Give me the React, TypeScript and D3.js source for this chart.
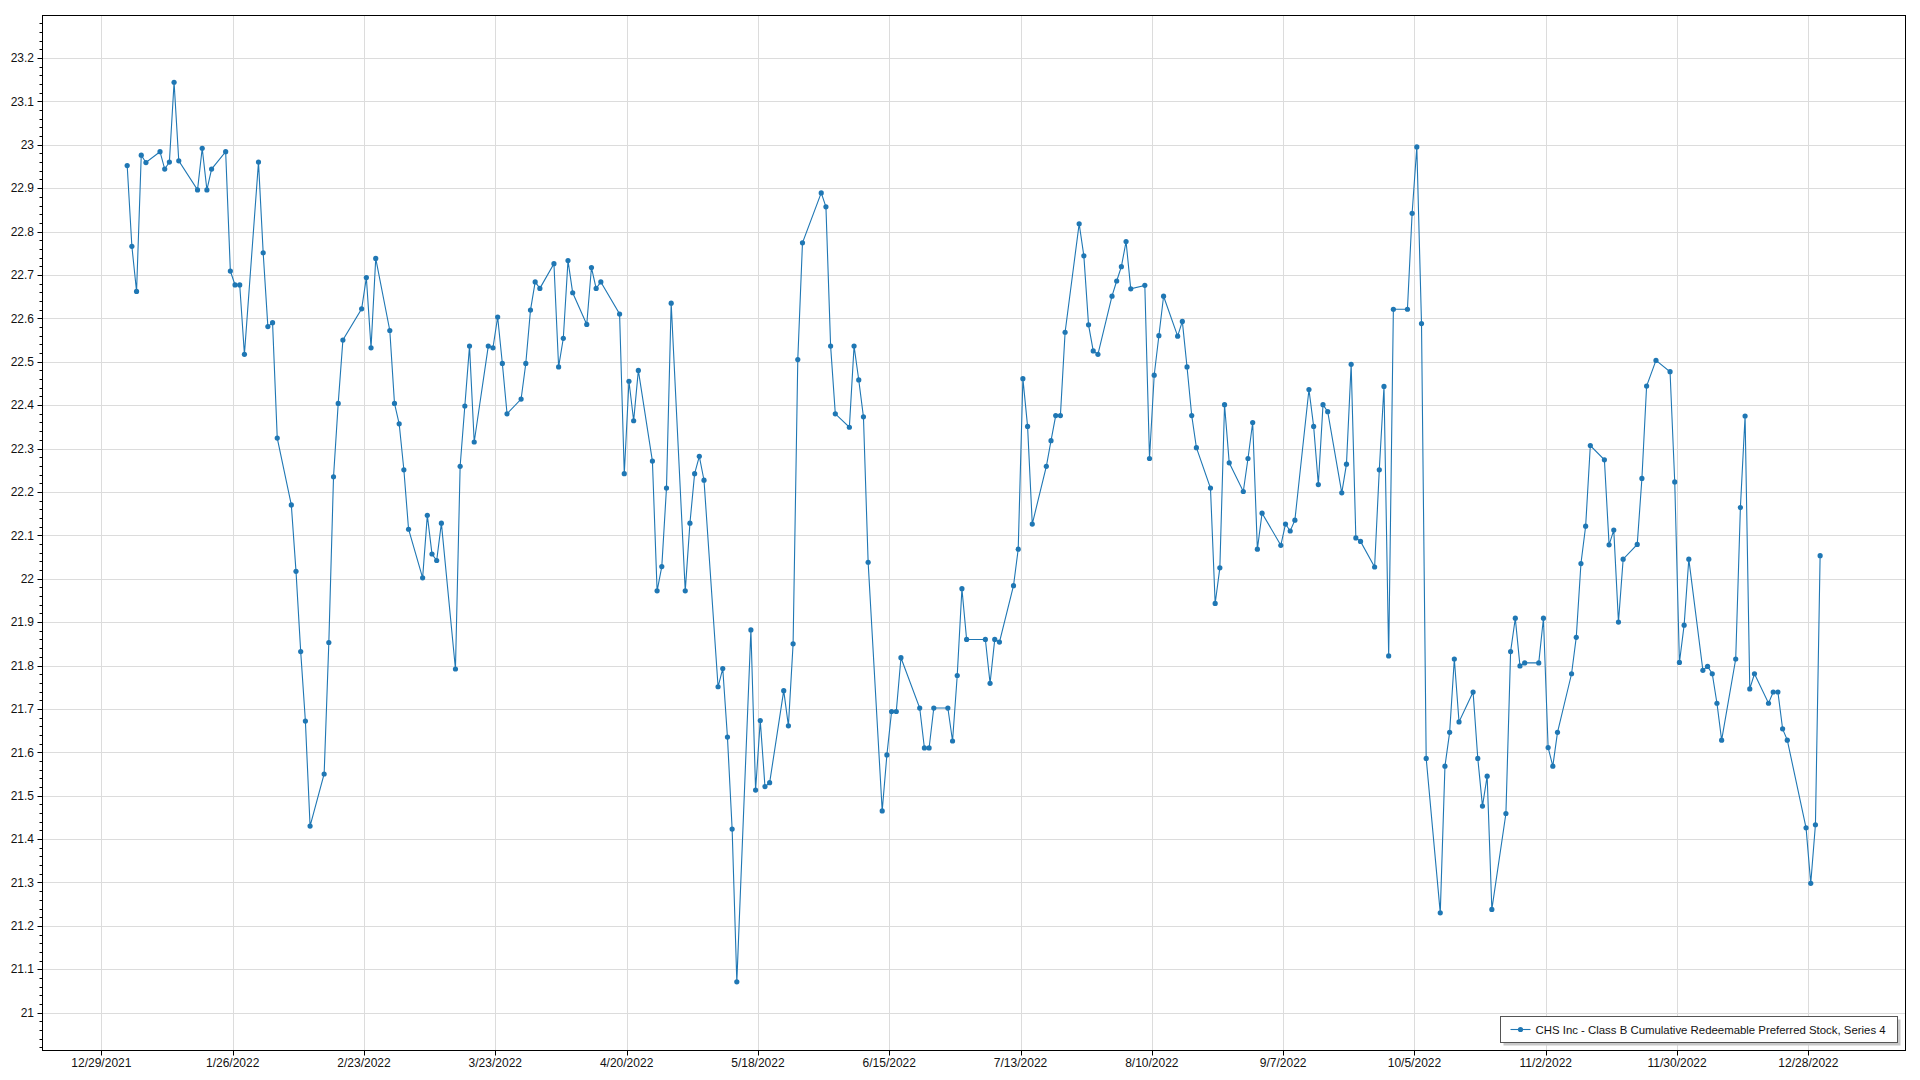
import React from 'react';
import * as d3 from 'd3';

const seriesName = 'CHS Inc - Class B Cumulative Redeemable Preferred Stock, Series 4';

const tradeDates = [
  '2022-01-03','2022-01-04','2022-01-05','2022-01-06','2022-01-07',
  '2022-01-10','2022-01-11','2022-01-12','2022-01-13','2022-01-14',
  '2022-01-18','2022-01-19','2022-01-20','2022-01-21',
  '2022-01-24','2022-01-25','2022-01-26','2022-01-27','2022-01-28',
  '2022-01-31','2022-02-01','2022-02-02','2022-02-03','2022-02-04',
  '2022-02-07','2022-02-08','2022-02-09','2022-02-10','2022-02-11',
  '2022-02-14','2022-02-15','2022-02-16','2022-02-17','2022-02-18',
  '2022-02-22','2022-02-23','2022-02-24','2022-02-25',
  '2022-02-28','2022-03-01','2022-03-02','2022-03-03','2022-03-04',
  '2022-03-07','2022-03-08','2022-03-09','2022-03-10','2022-03-11',
  '2022-03-14','2022-03-15','2022-03-16','2022-03-17','2022-03-18',
  '2022-03-21','2022-03-22','2022-03-23','2022-03-24','2022-03-25',
  '2022-03-28','2022-03-29','2022-03-30','2022-03-31','2022-04-01',
  '2022-04-04','2022-04-05','2022-04-06','2022-04-07','2022-04-08',
  '2022-04-11','2022-04-12','2022-04-13','2022-04-14',
  '2022-04-18','2022-04-19','2022-04-20','2022-04-21','2022-04-22',
  '2022-04-25','2022-04-26','2022-04-27','2022-04-28','2022-04-29',
  '2022-05-02','2022-05-03','2022-05-04','2022-05-05','2022-05-06',
  '2022-05-09','2022-05-10','2022-05-11','2022-05-12','2022-05-13',
  '2022-05-16','2022-05-17','2022-05-18','2022-05-19','2022-05-20',
  '2022-05-23','2022-05-24','2022-05-25','2022-05-26','2022-05-27',
  '2022-05-31','2022-06-01','2022-06-02','2022-06-03',
  '2022-06-06','2022-06-07','2022-06-08','2022-06-09','2022-06-10',
  '2022-06-13','2022-06-14','2022-06-15','2022-06-16','2022-06-17',
  '2022-06-21','2022-06-22','2022-06-23','2022-06-24',
  '2022-06-27','2022-06-28','2022-06-29','2022-06-30','2022-07-01',
  '2022-07-05','2022-07-06','2022-07-07','2022-07-08',
  '2022-07-11','2022-07-12','2022-07-13','2022-07-14','2022-07-15',
  '2022-07-18','2022-07-19','2022-07-20','2022-07-21','2022-07-22',
  '2022-07-25','2022-07-26','2022-07-27','2022-07-28','2022-07-29',
  '2022-08-01','2022-08-02','2022-08-03','2022-08-04','2022-08-05',
  '2022-08-08','2022-08-09','2022-08-10','2022-08-11','2022-08-12',
  '2022-08-15','2022-08-16','2022-08-17','2022-08-18','2022-08-19',
  '2022-08-22','2022-08-23','2022-08-24','2022-08-25','2022-08-26',
  '2022-08-29','2022-08-30','2022-08-31','2022-09-01','2022-09-02',
  '2022-09-06','2022-09-07','2022-09-08','2022-09-09',
  '2022-09-12','2022-09-13','2022-09-14','2022-09-15','2022-09-16',
  '2022-09-19','2022-09-20','2022-09-21','2022-09-22','2022-09-23',
  '2022-09-26','2022-09-27','2022-09-28','2022-09-29','2022-09-30',
  '2022-10-03','2022-10-04','2022-10-05','2022-10-06','2022-10-07',
  '2022-10-10','2022-10-11','2022-10-12','2022-10-13','2022-10-14',
  '2022-10-17','2022-10-18','2022-10-19','2022-10-20','2022-10-21',
  '2022-10-24','2022-10-25','2022-10-26','2022-10-27','2022-10-28',
  '2022-10-31','2022-11-01','2022-11-02','2022-11-03','2022-11-04',
  '2022-11-07','2022-11-08','2022-11-09','2022-11-10','2022-11-11',
  '2022-11-14','2022-11-15','2022-11-16','2022-11-17','2022-11-18',
  '2022-11-21','2022-11-22','2022-11-23','2022-11-25',
  '2022-11-28','2022-11-29','2022-11-30','2022-12-01','2022-12-02',
  '2022-12-05','2022-12-06','2022-12-07','2022-12-08','2022-12-09',
  '2022-12-12','2022-12-13','2022-12-14','2022-12-15','2022-12-16',
  '2022-12-19','2022-12-20','2022-12-21','2022-12-22','2022-12-23',
  '2022-12-27','2022-12-28','2022-12-29','2022-12-30',
];

const prices = [
  22.952, 22.766, 22.662, 22.976, 22.959,
  22.984, 22.944, 22.960, 23.144, 22.963,
  22.896, 22.992, 22.896, 22.944,
  22.984, 22.709, 22.677, 22.677, 22.517,
  22.960, 22.751, 22.581, 22.590, 22.324,
  22.170, 22.017, 21.832, 21.672, 21.430,
  21.550, 21.853, 22.235, 22.404, 22.550,
  22.622, 22.694, 22.532, 22.738,
  22.572, 22.404, 22.357, 22.251, 22.114,
  22.002, 22.146, 22.057, 22.042, 22.128,
  21.792, 22.259, 22.398, 22.536, 22.315,
  22.536, 22.532, 22.603, 22.496, 22.380,
  22.414, 22.496, 22.619, 22.684, 22.669,
  22.726, 22.488, 22.554, 22.733, 22.659,
  22.586, 22.717, 22.669, 22.684,
  22.610, 22.242, 22.455, 22.364, 22.480,
  22.271, 21.972, 22.028, 22.209, 22.635,
  21.972, 22.128, 22.242, 22.282, 22.227,
  21.751, 21.793, 21.635, 21.423, 21.071,
  21.882, 21.513, 21.673, 21.521, 21.530,
  21.742, 21.661, 21.850, 22.505, 22.774,
  22.889, 22.857, 22.536, 22.380,
  22.349, 22.536, 22.458, 22.373, 22.038,
  21.465, 21.594, 21.694, 21.694, 21.818,
  21.702, 21.610, 21.610, 21.702,
  21.702, 21.626, 21.777, 21.977, 21.860,
  21.860, 21.759, 21.860, 21.854,
  21.984, 22.068, 22.461, 22.351, 22.126,
  22.259, 22.318, 22.376, 22.376, 22.568,
  22.818, 22.744, 22.585, 22.525, 22.517,
  22.651, 22.686, 22.719, 22.777, 22.668,
  22.676, 22.277, 22.469, 22.560, 22.651,
  22.559, 22.593, 22.488, 22.376, 22.302,
  22.209, 21.943, 22.025, 22.401, 22.267,
  22.201, 22.277, 22.360, 22.068, 22.151,
  22.077, 22.126, 22.110, 22.135,
  22.436, 22.351, 22.217, 22.401, 22.385,
  22.198, 22.264, 22.494, 22.094, 22.086,
  22.027, 22.251, 22.443, 21.822, 22.621,
  22.621, 22.842, 22.995, 22.588, 21.586,
  21.230, 21.568, 21.646, 21.815, 21.670,
  21.739, 21.586, 21.476, 21.545, 21.238,
  21.459, 21.832, 21.909, 21.799, 21.806,
  21.806, 21.909, 21.611, 21.568, 21.646,
  21.781, 21.865, 22.035, 22.121, 22.307,
  22.274, 22.078, 22.112, 21.900, 22.045,
  22.079, 22.231, 22.444, 22.503,
  22.477, 22.223, 21.807, 21.893, 22.045,
  21.789, 21.798, 21.781, 21.713, 21.628,
  21.815, 22.164, 22.375, 21.746, 21.781,
  21.713, 21.739, 21.739, 21.654, 21.628,
  21.426, 21.298, 21.433, 22.053,
];

const xTickDates = [
  '2021-12-29','2022-01-26','2022-02-23','2022-03-23','2022-04-20','2022-05-18','2022-06-15',
  '2022-07-13','2022-08-10','2022-09-07','2022-10-05','2022-11-02','2022-11-30','2022-12-28',
];

const yTickValues = [
  21.0, 21.1, 21.2, 21.3, 21.4, 21.5, 21.6, 21.7, 21.8, 21.9, 22.0,
  22.1, 22.2, 22.3, 22.4, 22.5, 22.6, 22.7, 22.8, 22.9, 23.0, 23.1, 23.2,
];

const FONT = '"Segoe UI", "Liberation Sans", Arial, sans-serif';
const LINE_COLOR = '#1f77b4';

export default function App() {
  const parse = d3.timeParse('%Y-%m-%d');
  const DAY = 864e5;
  const left = 42.5, right = 1905.5, top = 15.5, bottom = 1050.5;

  const origin = parse('2021-12-29') as Date;
  const x = d3
    .scaleTime()
    .domain([new Date(+origin - 12.6 * DAY), new Date(+origin + 384.6 * DAY)])
    .range([42.3, 1905]);
  const y = d3.scaleLinear().domain([20.914, 23.299]).range([1050, 15]);

  const points = tradeDates.map((d, i) => ({
    date: new Date(+(parse(d) as Date) + 0.5 * DAY),
    value: prices[i],
  }));

  const line = d3
    .line<{ date: Date; value: number }>()
    .x((p) => x(p.date))
    .y((p) => y(p.value));

  const fmtDate = d3.timeFormat('%-m/%-d/%Y');
  const xTicks = xTickDates.map((d) => parse(d) as Date);
  const minorY = d3.range(20.92, 23.3, 0.02).filter((v) => {
    const r = Math.round(v * 100) % 10;
    return r !== 0;
  });

  const crisp = (v: number) => Math.round(v) + 0.5;

  const legendX = 1500.5, legendY = 1016.5, legendW = 397, legendH = 26;

  return (
    <svg
      width={1920}
      height={1080}
      style={{ position: 'absolute', left: 0, top: 0, background: '#fff' }}
      fontFamily={FONT}
    >
      <rect x={0} y={0} width={1920} height={1080} fill="#fff" />
      {/* grid */}
      <g stroke="#dcdcdc" strokeWidth={1}>
        {yTickValues.map((v) => (
          <line key={'gy' + v} x1={left} x2={right} y1={crisp(y(v))} y2={crisp(y(v))} />
        ))}
        {xTicks.map((d) => (
          <line key={'gx' + +d} x1={crisp(x(d))} x2={crisp(x(d))} y1={top} y2={bottom} />
        ))}
      </g>

      {/* series */}
      <path d={line(points) || ''} fill="none" stroke={LINE_COLOR} strokeWidth={1.1} />
      <g fill={LINE_COLOR}>
        {points.map((p, i) => (
          <circle key={i} cx={x(p.date)} cy={y(p.value)} r={2.6} />
        ))}
      </g>

      {/* frame */}
      <rect x={left} y={top} width={right - left} height={bottom - top} fill="none" stroke="#000" strokeWidth={1} />

      {/* axis ticks */}
      <g stroke="#000" strokeWidth={1}>
        {yTickValues.map((v) => (
          <line key={'ty' + v} x1={left - 5} x2={left} y1={crisp(y(v))} y2={crisp(y(v))} />
        ))}
        {minorY.map((v) => (
          <line key={'my' + v} x1={left - 3} x2={left} y1={crisp(y(v))} y2={crisp(y(v))} />
        ))}
        {xTicks.map((d) => (
          <line key={'tx' + +d} x1={crisp(x(d))} x2={crisp(x(d))} y1={bottom} y2={bottom + 5} />
        ))}
      </g>

      <g fontSize={12} fill="#111">
        {yTickValues.map((v) => (
          <text key={'ly' + v} x={34} y={y(v)} dy="0.35em" textAnchor="end">
            {String(+v.toFixed(1))}
          </text>
        ))}
        {xTicks.map((d) => (
          <text key={'lx' + +d} x={x(d)} y={1067} textAnchor="middle">
            {fmtDate(d)}
          </text>
        ))}
      </g>

      {/* legend */}
      <rect x={legendX + 3} y={legendY + 3} width={legendW} height={legendH} fill="#c8c8c8" />
      <rect x={legendX} y={legendY} width={legendW} height={legendH} fill="#fff" stroke="#555" strokeWidth={1} />
      <line x1={legendX + 10} x2={legendX + 30} y1={legendY + 13} y2={legendY + 13} stroke={LINE_COLOR} strokeWidth={1.1} />
      <circle cx={legendX + 20} cy={legendY + 13} r={2.6} fill={LINE_COLOR} />
      <text x={legendX + 35} y={legendY + 17} fontSize={11.4} fill="#111">
        {seriesName}
      </text>
    </svg>
  );
}
